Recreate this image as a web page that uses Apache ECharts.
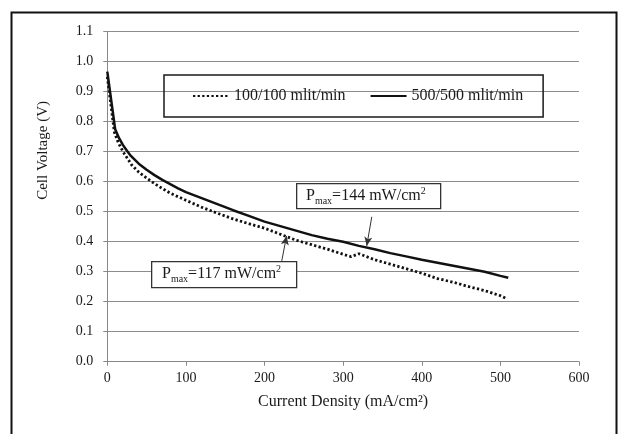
<!DOCTYPE html>
<html>
<head>
<meta charset="utf-8">
<script src="https://cdn.jsdelivr.net/npm/echarts@6/dist/echarts.min.js"></script>
<style>
html,body{margin:0;padding:0;background:#fff;}
#chart{width:622px;height:434px;}
</style>
</head>
<body>
<div id="chart"></div>
<script>
// ---- data ----
var seriesNames = ['100/100 mlit/min', '500/500 mlit/min'];
var xTicks = [0, 100, 200, 300, 400, 500, 600];
var yTicks = [0.0, 0.1, 0.2, 0.3, 0.4, 0.5, 0.6, 0.7, 0.8, 0.9, 1.0, 1.1];

var current100 = [0, 9, 14, 20, 25, 31, 40, 50, 65, 80, 100, 120, 140, 160, 180, 200, 220, 240, 260, 280, 300, 310, 320, 340, 360, 380, 400, 420, 440, 460, 480, 500, 508];
var voltage100 = [0.95, 0.765, 0.73, 0.70, 0.68, 0.656, 0.632, 0.612, 0.585, 0.562, 0.538, 0.515, 0.495, 0.476, 0.46, 0.445, 0.425, 0.405, 0.39, 0.375, 0.358, 0.35, 0.36, 0.34, 0.325, 0.31, 0.295, 0.277, 0.265, 0.25, 0.237, 0.22, 0.21];

var current500 = [0, 10, 15, 20, 25, 30, 40, 50, 60, 70, 80, 90, 100, 120, 140, 160, 180, 200, 220, 240, 260, 280, 300, 320, 340, 360, 380, 400, 420, 440, 460, 480, 500, 510];
var voltage500 = [0.967, 0.775, 0.745, 0.722, 0.703, 0.686, 0.66, 0.64, 0.622, 0.606, 0.592, 0.578, 0.565, 0.545, 0.525, 0.505, 0.486, 0.467, 0.452, 0.437, 0.422, 0.41, 0.40, 0.386, 0.375, 0.362, 0.351, 0.34, 0.33, 0.32, 0.31, 0.30, 0.286, 0.28];

// annotation arrows in data units: [start, tip]
var arrow144 = [[336.4, 0.483], [330, 0.386]];
var arrow117 = [[221.9, 0.336], [228, 0.419]];

function zip(xs, ys) { return xs.map(function (x, i) { return [x, ys[i]]; }); }

var FONT = '"Liberation Serif", "Times New Roman", serif';
var chart = echarts.init(document.getElementById('chart'), null, {renderer: 'canvas'});

function pmaxText(val) {
  return {
    type: 'text',
    style: {
      text: '{a|P}{b|max}{a|=' + val + ' mW/cm}{c|2}',
      rich: {
        a: {fontFamily: FONT, fontSize: 16, lineHeight: 20, fill: '#1a1a1a', color: '#1a1a1a', verticalAlign: 'middle'},
        b: {fontFamily: FONT, fontSize: 10, lineHeight: 20, fill: '#1a1a1a', color: '#1a1a1a', verticalAlign: 'bottom'},
        c: {fontFamily: FONT, fontSize: 10, lineHeight: 20, fill: '#1a1a1a', color: '#1a1a1a', verticalAlign: 'top'}
      },
      verticalAlign: 'middle',
      align: 'left'
    }
  };
}

var t144 = pmaxText('144'); t144.left = 306; t144.top = 186;
var t117 = pmaxText('117'); t117.left = 162; t117.top = 264;

var option = {
  backgroundColor: '#ffffff',
  animation: false,
  textStyle: {fontFamily: FONT},
  grid: {left: 107.3, right: 43, top: 31.7, bottom: 72.3},
  legend: {
    left: 164, top: 75,
    padding: [13, 20, 13, 28],
    borderColor: '#1a1a1a', borderWidth: 1.5,
    itemWidth: 36, itemHeight: 14, itemGap: 24,
    itemStyle: {opacity: 0},
    textStyle: {fontFamily: FONT, fontSize: 16, color: '#1a1a1a'},
    data: seriesNames
  },
  xAxis: {
    type: 'value', min: 0, max: 600, interval: 100,
    name: 'Current Density (mA/cm²)', nameLocation: 'middle', nameGap: 32,
    nameTextStyle: {fontFamily: FONT, fontSize: 16, color: '#1a1a1a'},
    axisLine: {show: true, lineStyle: {color: '#888', width: 1}},
    axisTick: {show: true, length: 4, lineStyle: {color: '#888'}},
    axisLabel: {fontFamily: FONT, fontSize: 14, color: '#1a1a1a', margin: 10},
    splitLine: {show: false}
  },
  yAxis: {
    type: 'value', min: 0, max: 1.1, interval: 0.1,
    axisLine: {show: true, lineStyle: {color: '#888', width: 1}},
    axisTick: {show: true, length: 4, lineStyle: {color: '#888'}},
    axisLabel: {fontFamily: FONT, fontSize: 14, color: '#1a1a1a', margin: 14,
      formatter: function (v) { return v.toFixed(1); }},
    splitLine: {show: true, lineStyle: {color: '#8c8c8c', width: 1}}
  },
  series: [
    {
      name: seriesNames[0], type: 'line', data: zip(current100, voltage100),
      showSymbol: false, symbol: 'none',
      lineStyle: {color: '#111', width: 2.8, type: [2.3, 2.3], cap: 'butt'},
      itemStyle: {color: '#111'},
      markLine: {
        silent: true, symbol: ['none', 'arrow'], symbolSize: [6, 9],
        label: {show: false},
        lineStyle: {color: '#333', width: 1, type: 'solid'},
        data: [
          [{coord: arrow144[0]}, {coord: arrow144[1]}],
          [{coord: arrow117[0]}, {coord: arrow117[1]}]
        ]
      }
    },
    {
      name: seriesNames[1], type: 'line', data: zip(current500, voltage500),
      showSymbol: false, symbol: 'none',
      lineStyle: {color: '#111', width: 2.5, type: 'solid'},
      itemStyle: {color: '#111'}
    }
  ],
  graphic: [
    {type: 'rect', left: 9, top: 10, shape: {width: 605, height: 440},
      style: {fill: 'none', stroke: '#111', lineWidth: 2}, silent: true},
    {type: 'text', left: 36, top: 101, rotation: Math.PI / 2,
      style: {text: 'Cell Voltage (V)', font: '15px ' + FONT, fill: '#1a1a1a'}},
    {type: 'rect', left: 296, top: 183, shape: {width: 144, height: 25},
      style: {fill: '#fff', stroke: '#333', lineWidth: 1.3}, z: 10},
    {type: 'rect', left: 151, top: 261, shape: {width: 145, height: 26},
      style: {fill: '#fff', stroke: '#333', lineWidth: 1.3}, z: 10},
    Object.assign(t144, {z: 11}),
    Object.assign(t117, {z: 11})
  ]
};
chart.setOption(option);
</script>
</body>
</html>
